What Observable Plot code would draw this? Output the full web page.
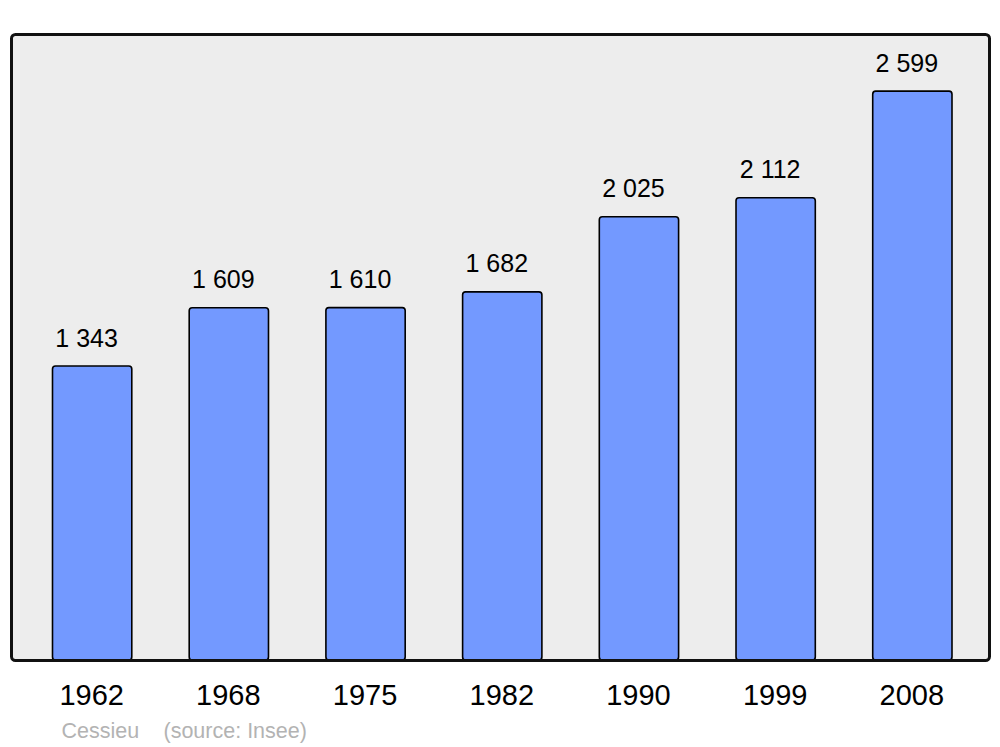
<!DOCTYPE html>
<html>
<head>
<meta charset="utf-8">
<script src="https://cdn.jsdelivr.net/npm/d3@7"></script>
<script src="https://cdn.jsdelivr.net/npm/@observablehq/plot@0.6"></script>
<style>
  html, body { margin: 0; padding: 0; background: #ffffff; }
  #chart svg { display: block; }
</style>
</head>
<body>
<div id="chart"></div>
<script>
const years = ["1962", "1968", "1975", "1982", "1990", "1999", "2008"];
const population = [1343, 1609, 1610, 1682, 2025, 2112, 2599];
const placeName = "Cessieu";
const sourceText = "(source: Insee)";

const data = years.map((year, i) => ({year, population: population[i]}));
const fmt = d3.formatLocale({decimal: ",", thousands: " ", grouping: [3], currency: ["", ""]}).format(",d");
const font = "Liberation Sans, Arial, sans-serif";

const chart = Plot.plot({
  width: 1000,
  height: 747,
  marginLeft: 11,
  marginRight: 11,
  marginTop: 34,
  marginBottom: 87,
  style: {fontFamily: font, background: "#ffffff"},
  x: {domain: years, range: [52.5, 952], paddingInner: 0.42, paddingOuter: 0, round: false, axis: null},
  y: {domain: [0, 2860], axis: null},
  marks: [
    Plot.frame({fill: "#ededed", stroke: null, rx: 4}),
    Plot.barY(data, {x: "year", y: "population", fill: "#7399ff", stroke: "#000000", strokeWidth: 1.6, rx: 3}),
    Plot.frame({stroke: "#111111", strokeWidth: 3, rx: 4}),
    Plot.text(data, {x: "year", y: "population", text: d => fmt(d.population), lineAnchor: "bottom", dy: -20, dx: -6, fontSize: 25, fill: "#000000"}),
    Plot.text(data, {x: "year", text: "year", frameAnchor: "bottom", lineAnchor: "middle", dy: 35, dx: -1, fontSize: 29, fill: "#000000"}),
    Plot.text([placeName], {text: d => d, frameAnchor: "bottom-left", textAnchor: "start", lineAnchor: "bottom", dx: 50, dy: 77, fontSize: 21.5, fill: "#b3b3b3"}),
    Plot.text([sourceText], {text: d => d, frameAnchor: "bottom-left", textAnchor: "start", lineAnchor: "bottom", dx: 152, dy: 77, fontSize: 21.5, fill: "#b3b3b3"})
  ]
});
document.getElementById("chart").appendChild(chart);
</script>
</body>
</html>
